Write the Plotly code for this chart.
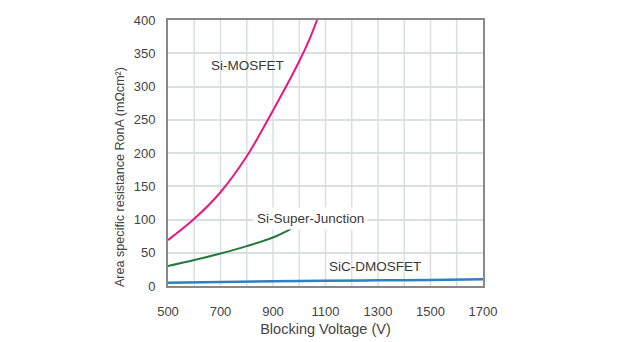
import plotly.graph_objects as go

mos_v = [500, 600, 700, 800, 900, 1000, 1040, 1068]
mos_r = [69, 101, 141, 195, 264, 338, 372, 400]

sj_v = [500, 600, 700, 800, 900, 969]
sj_r = [30, 39, 49, 60, 73, 86]

sic_v = [500, 700, 900, 1100, 1300, 1500, 1700]
sic_r = [5, 6, 7, 7.8, 8.5, 9.2, 10]

labels = [("Si-MOSFET", 802, 331, False), ("Si-Super-Junction", 1041, 102, True), ("SiC-DMOSFET", 1289, 30, False)]

fig = go.Figure()
fig.add_trace(go.Scatter(x=mos_v, y=mos_r, mode="lines", line=dict(color="#e8197e", width=2, shape="spline", smoothing=1.0), showlegend=False))
fig.add_trace(go.Scatter(x=sj_v, y=sj_r, mode="lines", line=dict(color="#237a3a", width=2, shape="spline"), showlegend=False))
fig.add_trace(go.Scatter(x=sic_v, y=sic_r, mode="lines", line=dict(color="#2f7fc4", width=2.5, shape="spline"), showlegend=False))

for t, x, y, bg in labels:
    fig.add_annotation(x=x, y=y, text=t, showarrow=False, font=dict(size=13.5, color="#3a3a3a"),
                       bgcolor="white" if bg else None, borderpad=3)

# y-axis title as annotation (slightly below centre, as in the reference)
fig.add_annotation(xref="paper", yref="paper", x=-0.152, y=0.41, xanchor="center", yanchor="middle",
                   text="Area specific resistance RonA (mΩcm²)",
                   textangle=-90, showarrow=False, font=dict(size=12.6, color="#444444"))

fig.update_layout(
    width=640, height=342,
    margin=dict(l=168, r=157, t=20, b=56),
    plot_bgcolor="white", paper_bgcolor="white",
    font=dict(family="Liberation Sans, Arial, sans-serif", size=13, color="#444444"),
    xaxis=dict(range=[500, 1700], tickvals=[500, 700, 900, 1100, 1300, 1500, 1700], automargin=False,
               showgrid=False, zeroline=False, showline=True, mirror=True, linecolor="#888888", linewidth=2,
               ticks="outside", ticklen=12, tickcolor="rgba(0,0,0,0)",
               tickfont=dict(size=13, color="#444444"),
               title=dict(text="Blocking Voltage (V)", standoff=6, font=dict(size=14.5))),
    yaxis=dict(range=[0, 400], dtick=50, showgrid=True, gridcolor="#d9e0e0", gridwidth=1.5, automargin=False,
               zeroline=False, showline=True, mirror=True, linecolor="#888888", linewidth=2,
               ticks="outside", ticklen=8, tickcolor="rgba(0,0,0,0)",
               tickfont=dict(size=13, color="#444444")),
)
# vertical grid every 100
for v in range(600, 1700, 100):
    fig.add_shape(type="line", x0=v, x1=v, y0=0, y1=400, xref="x", yref="y",
                  line=dict(color="#d9e0e0", width=1.5), layer="below")

fig.write_html("out.html")
